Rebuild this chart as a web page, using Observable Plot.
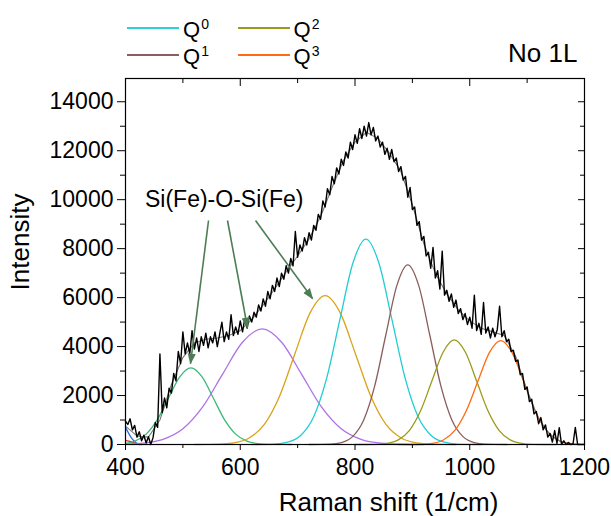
<!DOCTYPE html>
<html>
<head>
<meta charset="utf-8">
<script src="https://cdn.jsdelivr.net/npm/d3@7"></script>
<script src="https://cdn.jsdelivr.net/npm/@observablehq/plot@0.6"></script>
<style>
  body { margin: 0; background: #fff; }
  #wrap { position: relative; width: 611px; height: 516px; font-family: "Liberation Sans", Arial, sans-serif; color: #000; }
  #legend { position: absolute; left: 127px; top: 14px; display: grid; grid-template-columns: 110.5px 110.5px; grid-auto-rows: 27px; }
  .item { display: flex; align-items: center; }
  .swatch { width: 52px; height: 2px; margin-right: 4px; }
  .lab { font-size: 22px; line-height: 1; position: relative; top: 2px; }
  .lab sup { font-size: 14px; vertical-align: 7.5px; line-height: 0; margin-left: 1px; }
  #tag { position: absolute; left: 508px; top: 40px; font-size: 26px; line-height: 1; }
</style>
</head>
<body>
<div id="wrap"></div>
<script>
// ---------- data ----------
const xMajor = [400, 600, 800, 1000, 1200];
const xMinor = [500, 700, 900, 1100];
const yMajor = [0, 2000, 4000, 6000, 8000, 10000, 12000, 14000];
const yMinor = [1000, 3000, 5000, 7000, 9000, 11000, 13000];

// measured spectrum, sampled every 4 cm^-1 from 400
const specStart = 400, specStep = 4;
const specY = [
  950, 820, 1050, 600, 780, 300, 520, 150, 380, 60,
  320, 0, 280, 900, 700, 3700, 1300, 1900, 1500, 2300,
  2100, 2900, 2600, 3800, 3300, 4600, 3700, 4150, 3700, 4650,
  3900, 4350, 3800, 4400, 4050, 4550, 3950, 4400, 4150, 4600,
  4000, 4500, 5000, 4200, 4600, 4300, 5300, 4450, 4800, 4500,
  5050, 4600, 5150, 4750, 5250, 5000, 5400, 5200, 5700, 5450,
  5950, 5650, 6250, 5950, 6500, 6250, 6800, 6450, 7000, 6750,
  7300, 7000, 7600, 7300, 8700, 7650, 8150, 7900, 8450, 8150,
  8650, 8350, 8950, 8750, 9400, 9200, 9950, 9700, 10450, 10200,
  10950, 10650, 11300, 11050, 11650, 11400, 11950, 11700, 12350, 12050,
  12650, 12300, 12900, 12500, 13000, 12600, 13150, 12650, 12950, 12400,
  12600, 12150, 12350, 11850, 12100, 11650, 12050, 11550, 11700, 11150,
  11350, 10800, 10950, 10100, 10500, 9600, 9700, 8950, 9100, 8350,
  8500, 7700, 7850, 7200, 8050, 6800, 7100, 6350, 7900, 6100,
  6300, 5850, 6150, 5600, 5900, 5350, 5550, 5100, 5350, 4900,
  5200, 4750, 6100, 4650, 4950, 4500, 5800, 4550, 4800, 4350,
  4750, 4400, 4700, 5650, 4400, 4650, 4200, 4300, 3800, 3850,
  3400, 3450, 2850, 2900, 2250, 2350, 1750, 1850, 1250, 1350,
  850, 1100, 600, 800, 300, 450, 100, 570, 50, 690,
  0, 150, 0, 80, 0, 20, 700, 0, 0, 0,
  0
];

// cumulative fit envelope, every 20 cm^-1 from 400
const fitStart = 400, fitStep = 20;
const fitY = [750, 350, 300, 1000, 2450, 3550, 4150, 4300, 4350, 4450,
  4650, 5100, 5700, 6350, 7050, 7700, 8400, 9300, 10500, 11600,
  12350, 12750, 12500, 11900, 11150, 9800, 8200, 7000, 6150, 5500,
  5050, 4750, 4600, 4450, 3600, 2200, 1050, 380, 90, 10, 0];

// fitted component bands (x in cm^-1, y intensity)
const band1X = [400, 416.5, 436, 455.5, 475, 494.5, 514, 533.5, 553, 572.5, 592, 611.5, 631, 650.5, 690];
const band1Y = [44, 137, 423, 1016, 1898, 2762, 3130, 2762, 1898, 1016, 423, 137, 35, 7, 0];
const band2X = [400, 431, 465.5, 500, 534.5, 569, 603.5, 638, 672.5, 707, 741.5, 776, 810.5, 845, 879.5, 920];
const band2Y = [12, 52, 207, 639, 1533, 2863, 4165, 4720, 4165, 2863, 1533, 639, 207, 52, 10, 0];
const band3X = [520, 562.5, 589, 615.5, 642, 668.5, 695, 721.5, 748, 774.5, 801, 827.5, 854, 880.5, 907, 933.5, 975];
const band3Y = [0, 13, 67, 267, 823, 1974, 3688, 5366, 6080, 5366, 3688, 1974, 823, 267, 67, 13, 0];
const q0X = [620, 659.75, 682.5, 705.25, 728, 750.75, 773.5, 796.25, 819, 841.75, 864.5, 887.25, 910, 932.75, 955.5, 978.25, 1020];
const q0Y = [0, 18, 93, 368, 1135, 2724, 5089, 7404, 8390, 7404, 5089, 2724, 1135, 368, 93, 18, 0];
const q1X = [720, 757.25, 776.5, 795.75, 815, 834.25, 853.5, 872.75, 892, 911.25, 930.5, 949.75, 969, 988.25, 1007.5, 1026.75, 1065];
const q1Y = [0, 16, 81, 322, 993, 2383, 4452, 6478, 7340, 6478, 4452, 2383, 993, 322, 81, 16, 0];
const q2X = [800, 836.5, 856, 875.5, 895, 914.5, 934, 953.5, 973, 992.5, 1012, 1031.5, 1051, 1070.5, 1090, 1109.5, 1150];
const q2Y = [0, 9, 47, 187, 578, 1386, 2590, 3768, 4270, 3768, 2590, 1386, 578, 187, 47, 9, 0];
const q3X = [875, 914, 934, 954, 974, 994, 1014, 1034, 1054, 1074, 1094, 1114, 1134, 1154, 1174, 1194, 1200];
const q3Y = [0, 9, 47, 186, 574, 1377, 2572, 3742, 4240, 3742, 2572, 1377, 574, 186, 47, 9, 5];
const lowBlueX = [400, 405, 410, 415, 420, 428];
const lowBlueY = [700, 480, 280, 140, 50, 0];
const lowRedX = [400, 406, 412, 418, 425];
const lowRedY = [170, 140, 90, 40, 0];

// annotation
const noteText = "Si(Fe)-O-Si(Fe)";
const noteX = 572, noteY = 10000;
const arrowX1 = [544.7, 577.8, 626.6];
const arrowY1 = [9150, 9150, 9150];
const arrowX2 = [513.3, 612.6, 725.9];
const arrowY2 = [3309, 4779, 5964];

// legend
const legendNames = ["0", "2", "1", "3"];
const legendColors = ["#2fd0d4", "#9b9a1c", "#8c5d5d", "#ff6a14"];

// ---------- chart ----------
const font = "'Liberation Sans', Arial, sans-serif";
const arrowColor = "#4e7d55";
const toPts = (xs, ys) => xs.map((x, i) => ({x, y: ys[i]}));
const components = [
  {x: lowRedX, y: lowRedY, c: "#e8302a"},
  {x: lowBlueX, y: lowBlueY, c: "#2a6ae0"},
  {x: band1X, y: band1Y, c: "#3db878"},
  {x: band2X, y: band2Y, c: "#ae72e6"},
  {x: band3X, y: band3Y, c: "#d9a31a"},
  {x: q0X, y: q0Y, c: "#22cdd2"},
  {x: q1X, y: q1Y, c: "#8c5d5d"},
  {x: q2X, y: q2Y, c: "#9b9a1c"},
  {x: q3X, y: q3Y, c: "#ff6a14"}
];
const spectrum = specY.map((y, i) => ({x: specStart + i * specStep, y}));
const fit = fitY.map((y, i) => ({x: fitStart + i * fitStep, y}));
const arrows = arrowX1.map((x, i) => ({x1: x, y1: arrowY1[i], x2: arrowX2[i], y2: arrowY2[i]}));

function filledHead(color, context) {
  const doc = (context && context.document) || document;
  const ns = "http://www.w3.org/2000/svg";
  const m = doc.createElementNS(ns, "marker");
  m.setAttribute("viewBox", "0 -5 10 10");
  m.setAttribute("refX", "9");
  m.setAttribute("refY", "0");
  m.setAttribute("markerUnits", "userSpaceOnUse");
  m.setAttribute("markerWidth", "11");
  m.setAttribute("markerHeight", "11");
  m.setAttribute("orient", "auto");
  const p = doc.createElementNS(ns, "path");
  p.setAttribute("d", "M0,-3.7L10,0L0,3.7Z");
  p.setAttribute("fill", color);
  p.setAttribute("stroke", "none");
  m.appendChild(p);
  return m;
}

function makeChart(customHeads) {
  const arrowMark = customHeads
    ? Plot.link(arrows, {x1: "x1", y1: "y1", x2: "x2", y2: "y2", stroke: arrowColor, strokeWidth: 1.6, markerEnd: filledHead})
    : Plot.arrow(arrows, {x1: "x1", y1: "y1", x2: "x2", y2: "y2", stroke: arrowColor, strokeWidth: 1.6, headLength: 11, headAngle: 45});
  return Plot.plot({
    width: 611, height: 516,
    marginLeft: 125, marginRight: 27, marginTop: 78, marginBottom: 72,
    style: {fontFamily: font, fontSize: "23px", color: "black", background: "white", overflow: "visible"},
    x: {domain: [400, 1200], axis: null},
    y: {domain: [0, 14950], axis: null},
    marks: [
      ...components.map(s => Plot.line(toPts(s.x, s.y), {x: "x", y: "y", stroke: s.c, strokeWidth: 1.3, curve: "monotone-x"})),
      Plot.line(fit, {x: "x", y: "y", stroke: "#7a7a7a", strokeWidth: 1.1}),
      Plot.line(spectrum, {x: "x", y: "y", stroke: "black", strokeWidth: 1.4}),
      arrowMark,
      Plot.text([noteText], {x: () => noteX, y: () => noteY, text: d => d, fontSize: 23, textAnchor: "middle", lineAnchor: "middle"}),
      Plot.frame({stroke: "black", strokeWidth: 1.2}),
      Plot.axisX({anchor: "bottom", ticks: xMajor, tickSize: 6, tickPadding: 8, tickFormat: d3.format("d"), label: null, fontSize: 23}),
      Plot.axisX({anchor: "bottom", ticks: xMinor, tickSize: 4, fill: "none", label: null}),
      Plot.axisX({anchor: "top", ticks: xMajor, tickSize: -7, fill: "none", label: null}),
      Plot.axisX({anchor: "top", ticks: xMinor, tickSize: -4, fill: "none", label: null}),
      Plot.axisY({anchor: "left", ticks: yMajor, tickSize: 8, tickPadding: 4, tickFormat: d3.format("d"), label: null, fontSize: 23}),
      Plot.axisY({anchor: "left", ticks: yMinor, tickSize: 5, fill: "none", label: null}),
      Plot.axisY({anchor: "right", ticks: yMajor, tickSize: -7, fill: "none", label: null}),
      Plot.axisY({anchor: "right", ticks: yMinor, tickSize: -5, fill: "none", label: null}),
      Plot.text(["Raman shift (1/cm)"], {frameAnchor: "bottom", dx: 33.5, dy: 58.5, fontSize: 26, textAnchor: "middle", lineAnchor: "middle"}),
      Plot.text(["Intensity"], {frameAnchor: "left", dx: -105, dy: -19.5, rotate: -90, fontSize: 26, textAnchor: "middle", lineAnchor: "middle"})
    ]
  });
}

let chart;
try { chart = makeChart(true); } catch (e) { chart = makeChart(false); }

const wrap = document.getElementById("wrap");
wrap.appendChild(chart);
chart.style.position = "absolute";
chart.style.left = "0px";
chart.style.top = "0px";

const legend = document.createElement("div");
legend.id = "legend";
legendNames.forEach((n, i) => {
  const item = document.createElement("div");
  item.className = "item";
  const sw = document.createElement("span");
  sw.className = "swatch";
  sw.style.background = legendColors[i];
  const lab = document.createElement("span");
  lab.className = "lab";
  lab.innerHTML = "Q<sup>" + n + "</sup>";
  item.appendChild(sw);
  item.appendChild(lab);
  legend.appendChild(item);
});
wrap.appendChild(legend);

const tag = document.createElement("div");
tag.id = "tag";
tag.textContent = "No 1L";
wrap.appendChild(tag);
</script>
</body>
</html>
